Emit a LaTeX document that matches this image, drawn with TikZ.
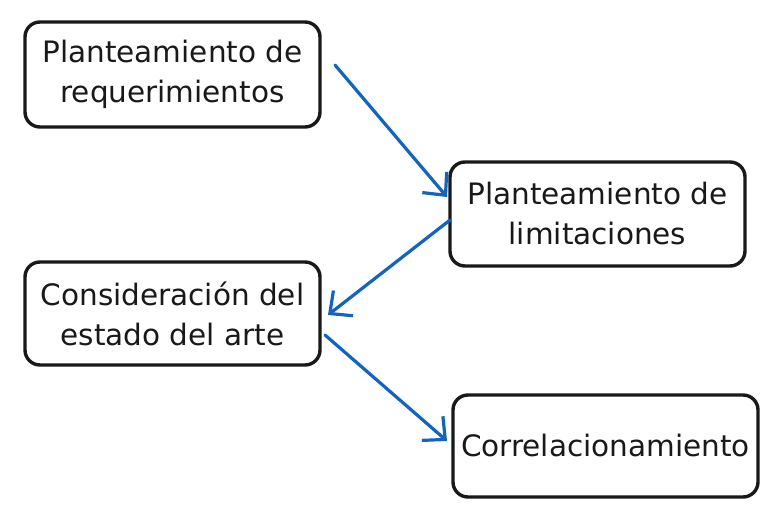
\documentclass[tikz,border=0pt]{standalone}
\usepackage{fontspec}
\setmainfont{DejaVu Sans}
\usetikzlibrary{arrows.meta}
\definecolor{arrowblue}{RGB}{17,100,196}
\tikzset{
  box/.style={draw=black!90, line width=3.4pt, rounded corners=15pt, fill=white,
    align=center, font=\fontsize{29.5}{40}\selectfont, inner sep=0pt, text=black!90},
  conn/.style={draw=arrowblue, line width=3.2pt, line cap=round,
    -{Straight Barb[length=17pt,width=32pt,line width=3.2pt]}},
}
\begin{document}
\begin{tikzpicture}[x=1pt,y=-1pt]
\useasboundingbox (0,0) rectangle (771,518);
\node[box, minimum width=295pt, minimum height=105pt] (req) at (172.5,74.5) {Planteamiento de\\requerimientos};
\node[box, minimum width=295pt, minimum height=104pt] (lim) at (597.5,214) {Planteamiento de\\limitaciones};
\node[box, minimum width=295pt, minimum height=103pt] (est) at (172.5,313.5) {Consideración del\\estado del arte};
\node[box, minimum width=305pt, minimum height=102pt] (cor) at (605.5,446) {Correlacionamiento};
\coordinate (a1s) at (335,65);
\coordinate (a1e) at (447,197);
\coordinate (a2s) at (450,220);
\coordinate (a2e) at (328,315);
\coordinate (a3s) at (325,335);
\coordinate (a3e) at (447,441);
\draw[conn] (a1s) -- (a1e);
\draw[conn] (a2s) -- (a2e);
\draw[conn] (a3s) -- (a3e);
\end{tikzpicture}
\end{document}
